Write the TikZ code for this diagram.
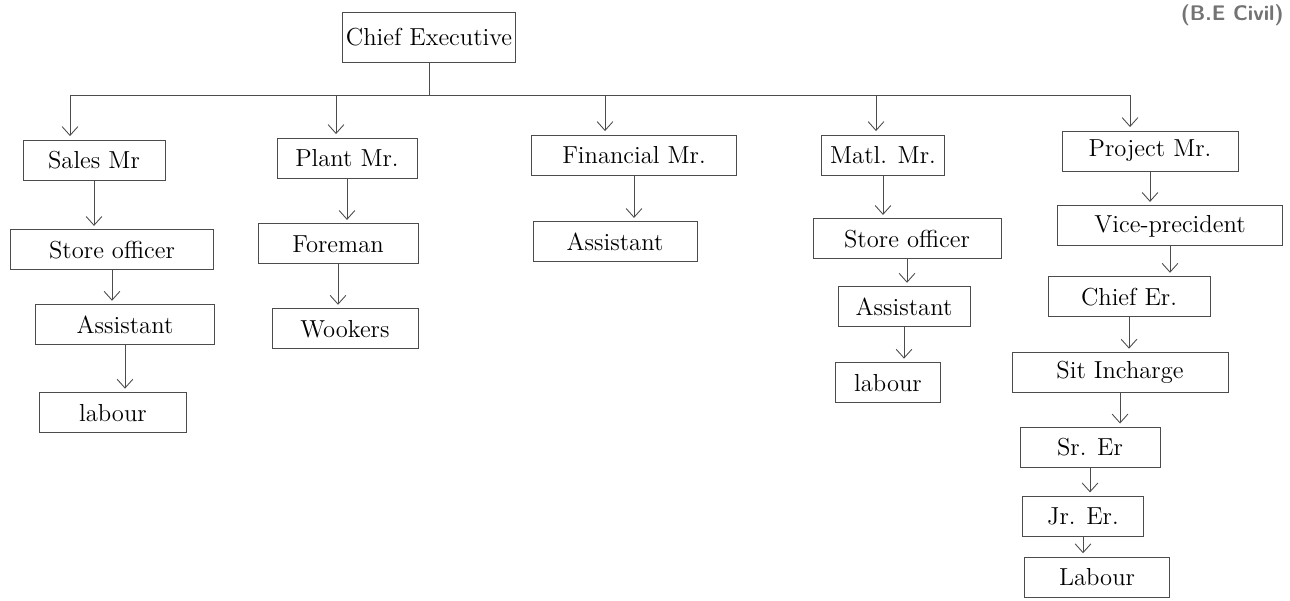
\documentclass[tikz,border=0pt]{standalone}
\usepackage{tikz}
\usetikzlibrary{arrows.meta}
\usetikzlibrary{positioning}

\begin{document}
\begin{tikzpicture}[x=0.02cm, y=-0.02cm, every node/.style={font=\fontsize{14}{16}\selectfont}]
\tikzstyle{post} = [rectangle, minimum height=0.8cm, inner xsep=2pt, text centered, draw=black!70, line width=0.5pt]
\tikzstyle{arrow} = [draw=black!70, line width=0.5pt, -{Straight Barb[length=5pt,width=9pt]}, shorten >=2pt]
\tikzstyle{line} = [draw=black!70, line width=0.5pt]

\useasboundingbox (0,0) rectangle (1290,601);

% Nodes
\node (ceo) [post, minimum width=3.36cm, minimum height=1cm] at (429,37) {Chief Executive};
\coordinate (bus) at (0,95);

\node (sales) [post, minimum width=2.84cm] at (94,160) {Sales Mr};
\node (plant) [post, minimum width=2.8cm] at (347,158) {Plant Mr.};
\node (fin) [post, minimum width=4.1cm] at (634,155) {Financial Mr.};
\node (matl) [post, minimum width=2.46cm] at (883,155) {Matl. Mr.};
\node (proj) [post, minimum width=3.52cm] at (1150,151) {Project Mr.};

\node (salesso) [post, minimum width=4.06cm, below=0.98cm of sales, xshift=0.36cm] {Store officer};
\node (salesas) [post, minimum width=3.58cm, below=0.68cm of salesso, xshift=0.26cm] {Assistant};
\node (saleslab) [post, minimum width=2.94cm, below=0.94cm of salesas, xshift=-0.24cm] {labour};

\node (plantfm) [post, minimum width=3.2cm, below=0.9cm of plant, xshift=-0.18cm] {Foreman};
\node (plantwk) [post, minimum width=2.92cm, below=0.88cm of plantfm, xshift=0.14cm] {Wookers};

\node (finas) [post, minimum width=3.28cm, below=0.92cm of fin, xshift=-0.38cm] {Assistant};

\node (matlso) [post, minimum width=3.76cm, below=0.86cm of matl, xshift=0.48cm] {Store officer};
\node (matlas) [post, minimum width=2.64cm, below=0.54cm of matlso, xshift=-0.06cm] {Assistant};
\node (matllab) [post, minimum width=2.1cm, below=0.7cm of matlas, xshift=-0.32cm] {labour};

\node (projvp) [post, minimum width=4.5cm, below=0.68cm of proj, xshift=0.4cm] {Vice-precident};
\node (projce) [post, minimum width=3.24cm, below=0.6cm of projvp, xshift=-0.82cm] {Chief Er.};
\node (projsite) [post, minimum width=4.32cm, below=0.7cm of projce, xshift=-0.18cm] {Sit Incharge};
\node (projsr) [post, minimum width=2.8cm, below=0.68cm of projsite, xshift=-0.6cm] {Sr. Er};
\node (projjr) [post, minimum width=2.42cm, below=0.56cm of projsr, xshift=-0.14cm] {Jr. Er.};
\node (projlab) [post, minimum width=2.9cm, below=0.4cm of projjr, xshift=0.28cm] {Labour};

\node (tag) [anchor=east, inner sep=0pt, text=black!55, font=\sffamily\bfseries\fontsize{12}{14}\selectfont] at (1284,15) {(B.E Civil)};

% Drop points on the bus
\coordinate (salestop) at ([xshift=-0.48cm]sales.north);
\coordinate (planttop) at ([xshift=-0.22cm]plant.north);
\coordinate (fintop) at ([xshift=-0.58cm]fin.north);
\coordinate (matltop) at ([xshift=-0.14cm]matl.north);
\coordinate (projtop) at ([xshift=-0.4cm]proj.north);

% Arrows
\draw [line] (ceo.south) -- (ceo.south |- bus);
\draw [line] (salestop |- bus) -- (projtop |- bus);
\foreach \n in {salestop, planttop, fintop, matltop, projtop}
  \draw [arrow] (\n |- bus) -- (\n);

\foreach \a/\b in {sales/salesso, salesso/salesas, salesas/saleslab,
                   plant/plantfm, plantfm/plantwk, fin/finas,
                   matl/matlso, matlso/matlas, matlas/matllab,
                   proj/projvp, projvp/projce, projce/projsite,
                   projsite/projsr, projsr/projjr, projjr/projlab}
  \draw [arrow] (\a.south) -- (\a.south |- \b.north);

\end{tikzpicture}
\end{document}
